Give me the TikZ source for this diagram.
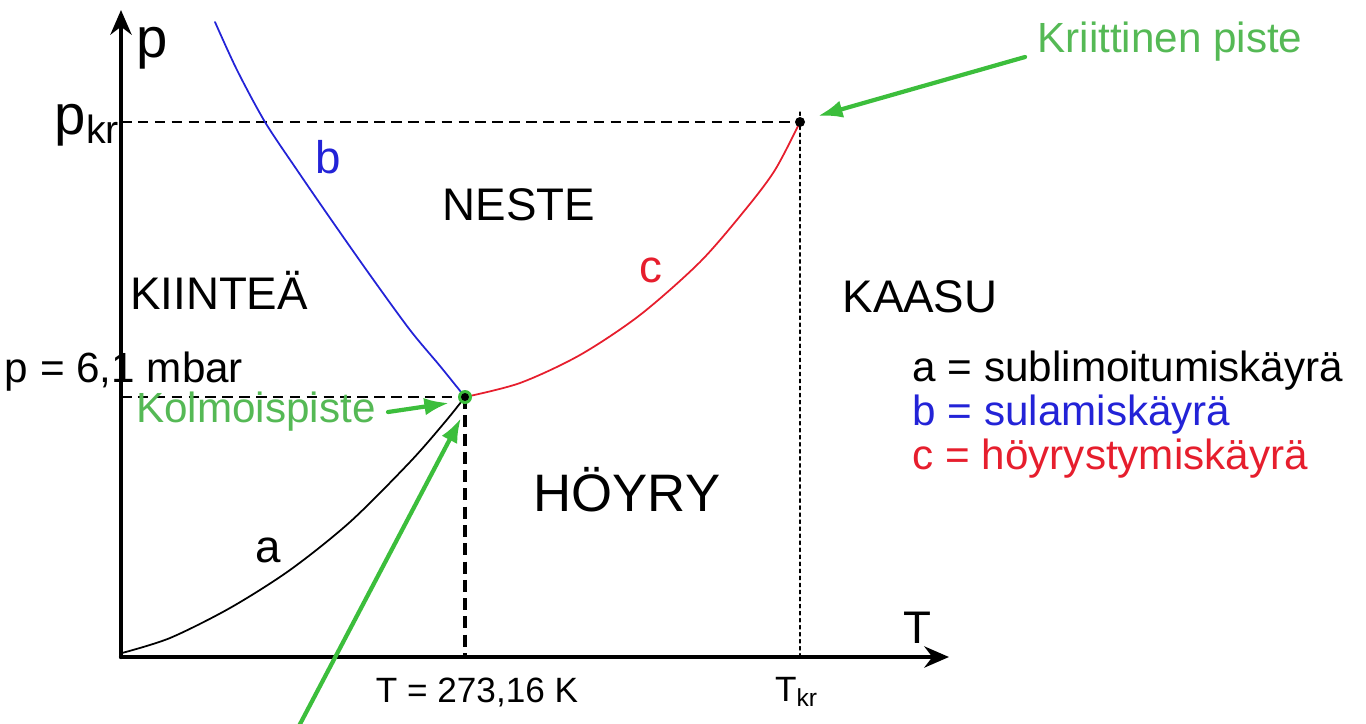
\documentclass[tikz,border=0pt]{standalone}
\usepackage{fontspec}
\setmainfont{Liberation Sans}
\usetikzlibrary{arrows.meta,positioning}
\definecolor{phasegreen}{RGB}{60,190,60}
\definecolor{phasetext}{RGB}{85,185,85}
\definecolor{phaseblue}{RGB}{35,35,215}
\definecolor{phasered}{RGB}{230,30,45}

\begin{document}
\begin{tikzpicture}[x=0.01cm,y=-0.01cm,>=Stealth,line cap=round,line join=round,
  axis/.style={line width=1.2pt,-{Stealth[length=7pt,width=6pt]}},
  guide/.style={black,line width=0.7pt,dash pattern=on 3pt off 1.8pt,line cap=butt},
  pointer/.style={phasegreen,line width=1.2pt,-{Latex[length=7pt,width=5pt]}},
  curve/.style={line width=0.5pt},
  phase/.style={font=\fontsize{13}{13}\selectfont}]
 \useasboundingbox (0,0) rectangle (1366,724);
 % akselit
 \coordinate (origin) at (121,657);
 \coordinate (ytip) at (121,10);
 \coordinate (xtip) at (949,657);
 \coordinate (kr) at (800,122);
 \coordinate (triple) at (465,397);
 \draw[axis] (origin) -- (ytip);
 \draw[axis] (origin) -- (xtip);
 \node[font=\fontsize{16}{16}\selectfont] (plabel) at (152,48) {p};
 \node[font=\fontsize{13}{13}\selectfont] (tlabel) at (917,628) {T};
 % apuviivat
 \draw[guide] (origin |- kr) -- (kr);
 \draw[guide] (origin |- triple) -- (triple);
 \draw[guide,line width=1.1pt,dash pattern=on 3.4pt off 1.8pt] (triple) -- (triple |- origin);
 \draw[black,line width=0.35pt,dash pattern=on 1pt off 1pt] (800,112) -- (kr |- origin);
 % käyrät
 \draw[curve,phaseblue] plot[smooth] coordinates {(215,22) (237,70) (265,122) (297,170) (330,218) (370,275) (410,330) (440,366) (465,397)};
 \draw[curve,phasered] plot[smooth] coordinates {(465,397) (520,383) (580,355) (640,315) (700,262) (745,210) (775,170) (800,122)};
 \draw[curve,black] plot[smooth] coordinates {(122,653) (170,638) (230,608) (290,570) (350,522) (410,462) (445,422) (465,397)};
 \fill[phasegreen] (triple) circle (7);
 \fill[black] (triple) circle (4);
 \fill[black] (kr) circle (5);
 % tekstit
 \node[font=\fontsize{16}{16}\selectfont,anchor=east] (pkr) at (133,125) {p\textsubscript{kr}};
 \node[font=\fontsize{12}{12}\selectfont] (ptriple) at (124,372) {p = 6,1 mbar};
 \node[font=\fontsize{10}{10}\selectfont] (ttriple) at (477,692) {T = 273,16 K};
 \node[font=\fontsize{10}{10}\selectfont] (tkr) at (797,692) {T\textsubscript{kr}};
 \node[phaseblue,font=\fontsize{13}{13}\selectfont] (blabel) at (328,157) {b};
 \node[phasered,font=\fontsize{13}{13}\selectfont] (clabel) at (651,270) {c};
 \node[font=\fontsize{13}{13}\selectfont] (alabel) at (268,550) {a};
 \node[phase] (neste) at (519,205) {NESTE};
 \node[phase] (kiintea) at (219,290) {KIINTEÄ};
 \node[phase] (kaasu) at (920,297) {KAASU};
 \node[phase,font=\fontsize{15}{15}\selectfont] (hoyry) at (627,490) {HÖYRY};
 \node[font=\fontsize{12}{12.5}\selectfont,anchor=west,align=left,inner sep=0pt] (legend) at (912,415)
  {a = sublimoitumiskäyrä\\
   \textcolor{phaseblue}{b = sulamiskäyrä}\\
   \textcolor{phasered}{c = höyrystymiskäyrä}};
 % vihreät osoittimet
 \node[phasetext,font=\fontsize{12}{12}\selectfont] (kriittinen) at (1170,42) {Kriittinen piste};
 \node[phasetext,font=\fontsize{12}{12}\selectfont] (kolmois) at (256,412) {Kolmoispiste};
 \coordinate (kraim) at (818,116);
 \coordinate (tripleaim) at (449,403);
 \coordinate (tripleaim2) at (461,418);
 \coordinate (lowstart) at (299,726);
 \draw[pointer] (kriittinen.west) ++(0,15) -- (kraim);
 \draw[pointer] (kolmois.east) -- (tripleaim);
 \draw[pointer] (lowstart) -- (tripleaim2);
\end{tikzpicture}
\end{document}
